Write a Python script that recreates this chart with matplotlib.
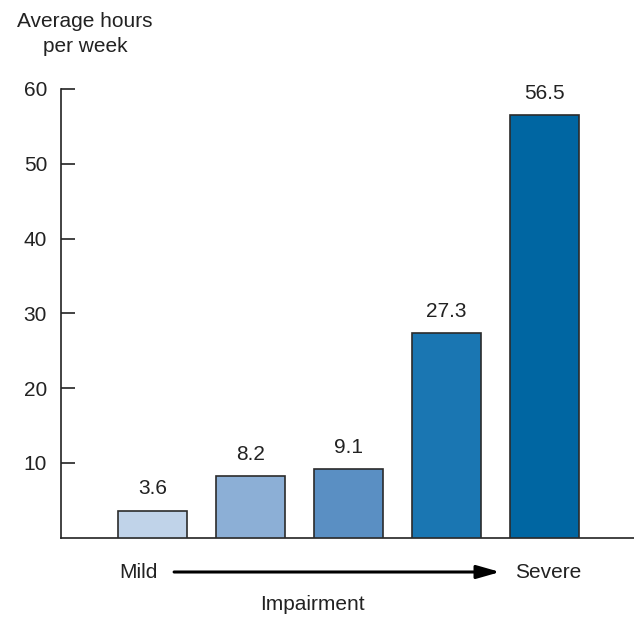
import matplotlib
matplotlib.use("Agg")
import matplotlib.pyplot as plt

# data
levels = ["1", "2", "3", "4", "5"]
hours = [3.6, 8.2, 9.1, 27.3, 56.5]
value_labels = ["3.6", "8.2", "9.1", "27.3", "56.5"]
yticks = [10, 20, 30, 40, 50, 60]
bar_colors = ["#c0d3e9", "#8cafd6", "#5a8fc3", "#1a76b2", "#0066a2"]

plt.rcParams["font.family"] = ["Liberation Sans", "DejaVu Sans"]
TEXT = "#222222"
FS = 15

fig = plt.figure(figsize=(6.34, 6.31), dpi=100)
ax = fig.add_axes([61 / 634, 93.5 / 631, 1 - 61 / 634, 448.5 / 631])

x = list(range(len(levels)))
ax.bar(x, hours, width=0.704, color=bar_colors, edgecolor="#2b2b2b", linewidth=1.2, zorder=3)

for xi, v, lab in zip(x, hours, value_labels):
    ax.annotate(lab, (xi, v), xytext=(0, 9), textcoords="offset points",
                ha="center", va="bottom", fontsize=FS, color=TEXT)

ax.set_xlim(-0.934, 4.913)
ax.set_ylim(0, 60)
ax.set_yticks(yticks)
ax.set_yticklabels([str(t) for t in yticks], fontsize=FS, color=TEXT)
ax.set_xticks([])
ax.tick_params(axis="y", direction="in", length=10, width=1.2, pad=10, color="#222222")

for side in ["top", "right"]:
    ax.spines[side].set_visible(False)
for side in ["left", "bottom"]:
    ax.spines[side].set_linewidth(1.2)
    ax.spines[side].set_color("#222222")

# y-axis title above the axis
fig.text(85 / 634, 1 - 34 / 631, "Average hours\nper week", ha="center", va="center",
         fontsize=FS, color=TEXT, linespacing=1.45)

# Mild -> Severe arrow under the bars
trans = ax.get_xaxis_transform()
row = -34.5 / 448.5
ax.text(-0.34, row, "Mild", transform=trans, ha="left", va="center", fontsize=FS, color=TEXT)
ax.text(3.70, row, "Severe", transform=trans, ha="left", va="center", fontsize=FS, color=TEXT)
ax.annotate("", xy=(3.546, row), xytext=(0.22, row), xycoords=trans, textcoords=trans,
            arrowprops=dict(arrowstyle="-|>,head_length=1.4,head_width=0.4", color="black", lw=2.2,
                            shrinkA=0, shrinkB=0),
            annotation_clip=False)

fig.text(312 / 634, 1 - 605 / 631, "Impairment", ha="center", va="center", fontsize=FS, color=TEXT)

fig.savefig("out.png", dpi=100)
